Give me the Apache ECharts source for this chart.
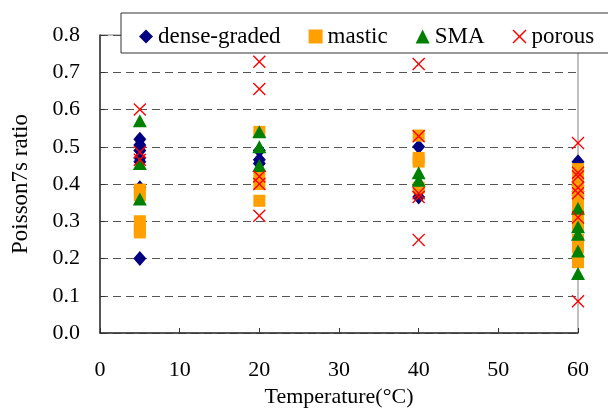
<!DOCTYPE html>
<html>
<head>
<meta charset="utf-8">
<script src="https://cdn.jsdelivr.net/npm/echarts@6/dist/echarts.min.js"></script>
<style>
  html, body { margin: 0; padding: 0; background: #fff; }
  #main { width: 608px; height: 410px; }
</style>
</head>
<body>
<div id="main"></div>
<script>
// [temperature, poisson ratio]
var denseGraded = [
  [5, 0.52], [5, 0.505], [5, 0.49], [5, 0.47], [5, 0.46], [5, 0.39], [5, 0.20],
  [20, 0.49], [20, 0.465], [20, 0.455],
  [40, 0.50], [40, 0.38], [40, 0.365],
  [60, 0.46], [60, 0.395], [60, 0.38], [60, 0.37]
]
var mastic = [
  [5, 0.385], [5, 0.37], [5, 0.30], [5, 0.28], [5, 0.27],
  [20, 0.54], [20, 0.42], [20, 0.40], [20, 0.355],
  [40, 0.53], [40, 0.47], [40, 0.46], [40, 0.39],
  [60, 0.44], [60, 0.41], [60, 0.38], [60, 0.35], [60, 0.32], [60, 0.29], [60, 0.25], [60, 0.23], [60, 0.19]
]
var sma = [
  [5, 0.57], [5, 0.455], [5, 0.36],
  [20, 0.54], [20, 0.50], [20, 0.45],
  [40, 0.43], [40, 0.41],
  [60, 0.335], [60, 0.285], [60, 0.265], [60, 0.22], [60, 0.16]
]
var porous = [
  [5, 0.60], [5, 0.485], [5, 0.465],
  [20, 0.728], [20, 0.655], [20, 0.42], [20, 0.40], [20, 0.315],
  [40, 0.722], [40, 0.528], [40, 0.375], [40, 0.365], [40, 0.25],
  [60, 0.51], [60, 0.43], [60, 0.42], [60, 0.39], [60, 0.375], [60, 0.31], [60, 0.085]
]
var seriesNames = ['dense-graded', 'mastic', 'SMA', 'porous']

var serif = 'Liberation Serif'
var crossPath = 'path://M1.5,0 L10,8.5 L18.5,0 L20,1.5 L11.5,10 L20,18.5 L18.5,20 L10,11.5 L1.5,20 L0,18.5 L8.5,10 L0,1.5 Z'

var myChart = echarts.init(document.getElementById('main'))
myChart.setOption({
  animation: false,
  textStyle: { fontFamily: serif },
  grid: {
    left: 100, right: 30, top: 35, bottom: 77,
    outerBoundsMode: 'none',
    containLabel: false,
    show: true, borderColor: '#808080', borderWidth: 1
  },
  graphic: [{
    type: 'rect',
    shape: { x: 121, y: 13, width: 520, height: 40 },
    style: { fill: '#fff', stroke: '#333', lineWidth: 1 },
    z: 90
  }],
  legend: {
    left: 134, top: 20,
    z: 100,
    itemWidth: 14, itemHeight: 14,
    itemGap: 28,
    textStyle: { fontFamily: serif, fontSize: 23, color: '#000' },
    data: seriesNames
  },
  xAxis: {
    type: 'value',
    min: 0, max: 60, interval: 10,
    name: 'Temperature(°C)',
    nameLocation: 'middle',
    nameGap: 53,
    nameTextStyle: { fontFamily: serif, fontSize: 22, color: '#000' },
    axisLine: { lineStyle: { color: '#333', width: 1.5 } },
    axisTick: { inside: true, length: 5, lineStyle: { color: '#333' } },
    axisLabel: { margin: 26, fontFamily: serif, fontSize: 22, color: '#000' },
    splitLine: { show: false }
  },
  yAxis: {
    type: 'value',
    min: 0, max: 0.8, interval: 0.1,
    name: 'Poisson7s ratio',
    nameLocation: 'middle',
    nameGap: 68,
    nameTextStyle: { fontFamily: serif, fontSize: 23, color: '#000' },
    axisLine: { lineStyle: { color: '#333', width: 1.5 } },
    axisTick: { inside: true, length: 5, lineStyle: { color: '#333' } },
    axisLabel: {
      margin: 20, fontFamily: serif, fontSize: 22, color: '#000',
      formatter: function (v) { return v.toFixed(1) }
    },
    splitLine: { lineStyle: { color: '#555', type: [8, 5], width: 1 } }
  },
  series: [{
    name: 'dense-graded',
    type: 'scatter',
    symbol: 'diamond',
    symbolSize: [13, 15],
    itemStyle: { color: '#000080', opacity: 1 },
    data: denseGraded
  }, {
    name: 'mastic',
    type: 'scatter',
    symbol: 'rect',
    symbolSize: 12,
    itemStyle: { color: '#FFA000', opacity: 1 },
    data: mastic
  }, {
    name: 'SMA',
    type: 'scatter',
    symbol: 'triangle',
    symbolSize: [14, 13],
    itemStyle: { color: '#008000', opacity: 1 },
    data: sma
  }, {
    name: 'porous',
    type: 'scatter',
    symbol: crossPath,
    symbolSize: 13,
    itemStyle: { color: '#FF0000', opacity: 1 },
    data: porous
  }]
})
</script>
</body>
</html>
